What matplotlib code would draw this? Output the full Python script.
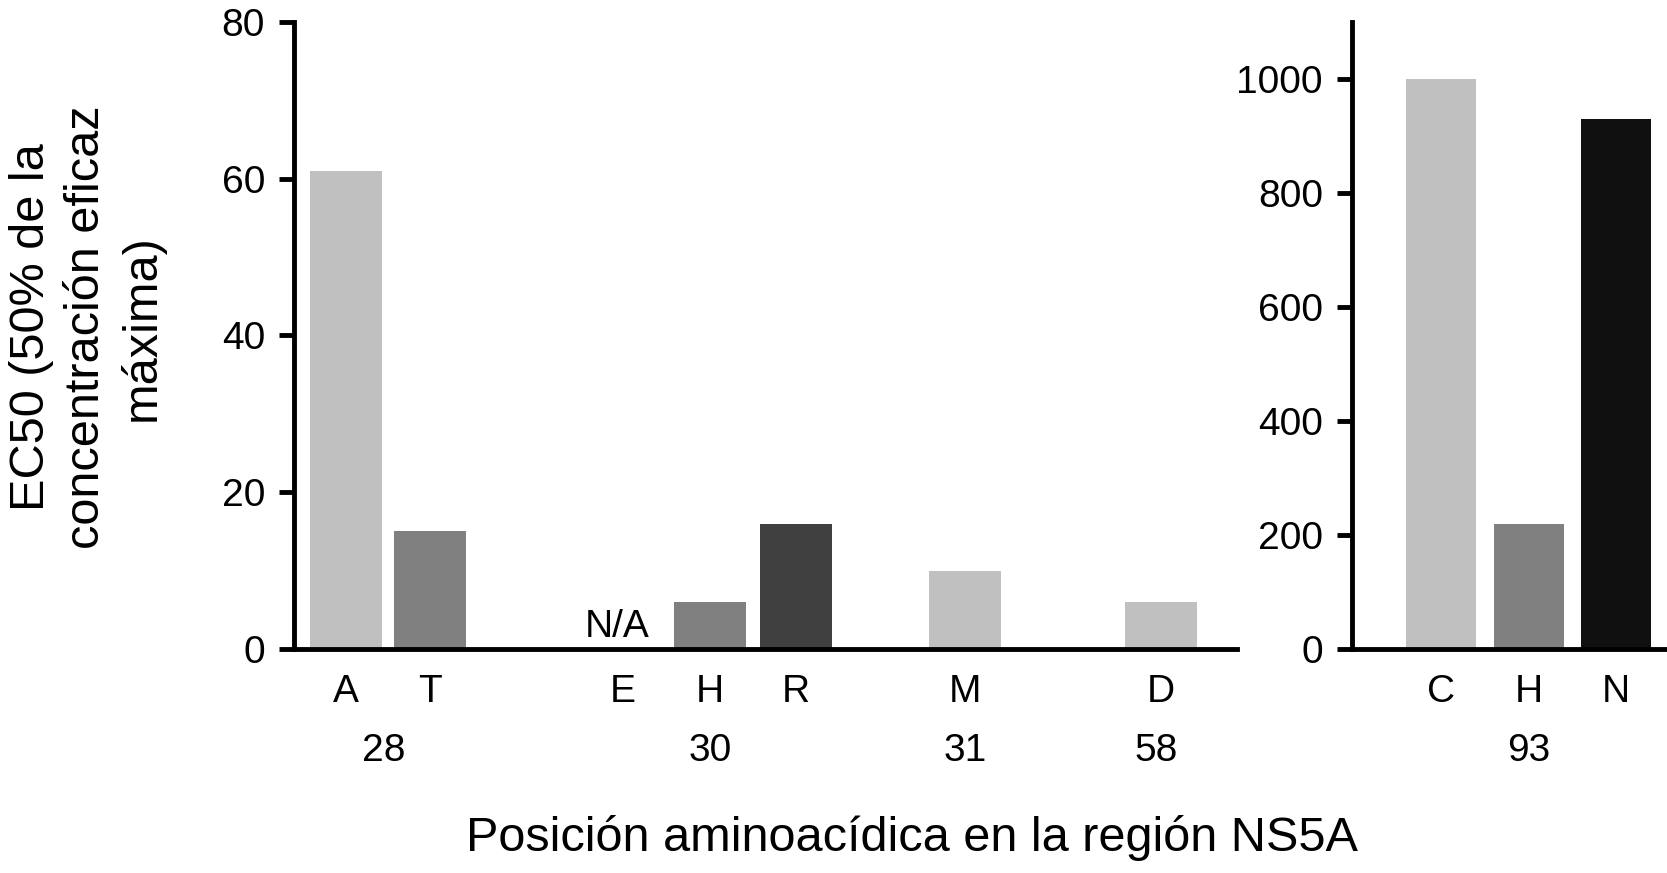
import matplotlib
matplotlib.use("Agg")
import matplotlib.pyplot as plt
import matplotlib.transforms as mtransforms

plt.rcParams['font.family'] = ['Liberation Sans', 'DejaVu Sans']

# data: left panel (positions 28, 30, 31, 58)
left_letters = ['A', 'T', 'E', 'H', 'R', 'M', 'D']
left_values = [61, 15, None, 6, 16, 10, 6]   # None = N/A
left_colors = ['#c0c0c0', '#808080', '#c0c0c0', '#808080', '#404040', '#c0c0c0', '#c0c0c0']
left_groups = ['28', '30', '31', '58']

# data: right panel (position 93)
right_letters = ['C', 'H', 'N']
right_values = [1000, 220, 930]
right_colors = ['#c0c0c0', '#808080', '#101010']
right_groups = ['93']

# layout
left_x = [0, 1, 3.3, 4.33, 5.36, 7.37, 9.7]
left_group_x = [0.45, 4.33, 7.37, 9.65]
right_x = [0, 1, 2]
right_group_x = [1]
FS = 28
TITLE_FS = 35

fig = plt.figure(figsize=(16.67, 8.73), dpi=100)
ax1 = fig.add_axes([0.1764, 0.2566, 0.5657, 0.7182])
ax2 = fig.add_axes([0.811, 0.2566, 0.189, 0.7182])


def style(ax):
    for s in ['top', 'right']:
        ax.spines[s].set_visible(False)
    for s in ['left', 'bottom']:
        ax.spines[s].set_linewidth(3.5)
    ax.tick_params(axis='y', length=11, width=3.5, labelsize=FS, pad=10)
    ax.tick_params(axis='x', length=0, labelsize=FS, pad=18)


# left panel
for x, v, c in zip(left_x, left_values, left_colors):
    if v is None:
        ax1.text(x - 0.07, 0.5, 'N/A', ha='center', va='bottom', fontsize=FS)
    else:
        ax1.bar(x, v, width=0.857, color=c)
ax1.set_xlim(-0.62, 10.61)
ax1.set_ylim(0, 80)
ax1.set_yticks([0, 20, 40, 60, 80])
ax1.set_xticks(left_x)
ax1.set_xticklabels(left_letters)
style(ax1)
tr1 = mtransforms.blended_transform_factory(ax1.transData, ax1.transAxes)
for gx, g in zip(left_group_x, left_groups):
    ax1.text(gx, -0.162, g, transform=tr1, ha='center', va='center', fontsize=FS)

# right panel
ax2.bar(right_x, right_values, width=0.8, color=right_colors)
ax2.set_xlim(-1.02, 2.58)
ax2.set_ylim(0, 1100)
ax2.set_yticks([0, 200, 400, 600, 800, 1000])
ax2.set_xticks(right_x)
ax2.set_xticklabels(right_letters)
style(ax2)
tr2 = mtransforms.blended_transform_factory(ax2.transData, ax2.transAxes)
for gx, g in zip(right_group_x, right_groups):
    ax2.text(gx, -0.162, g, transform=tr2, ha='center', va='center', fontsize=FS)

# axis titles
fig.text(0.052, 0.625, 'EC50 (50% de la\nconcentración eficaz\nmáxima)', rotation=90,
         ha='center', va='center', multialignment='center', fontsize=TITLE_FS,
         linespacing=1.27)
fig.text(0.547, 0.025, 'Posición aminoacídica en la región NS5A', ha='center',
         va='baseline', fontsize=TITLE_FS)

fig.savefig('out.png', dpi=100)
